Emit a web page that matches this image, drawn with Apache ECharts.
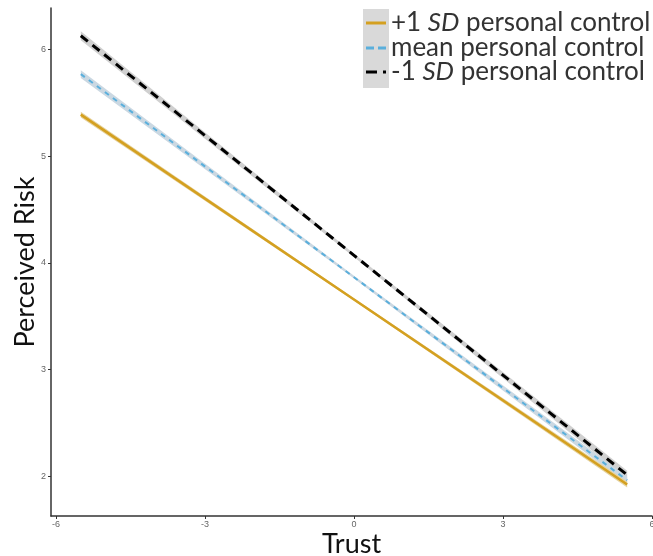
<!DOCTYPE html>
<html><head><meta charset="utf-8">
<script src="https://cdn.jsdelivr.net/npm/echarts@6/dist/echarts.min.js"></script>
<style>html,body{margin:0;padding:0;background:#fff}#c{width:653px;height:556px}</style>
</head><body><div id="c"></div>
<script>
// Data
var trust = [-5.5, 0, 5.5];
var highPC = [5.39, 3.655, 1.92];      // +1 SD personal control
var meanPC = [5.77, 3.865, 1.96];      // mean personal control
var lowPC  = [6.13, 4.07, 2.01];       // -1 SD personal control
// confidence band half-widths at the same trust values
var highBand = [0.028, 0.012, 0.028];
var meanBand = [0.036, 0.013, 0.034];
var lowBand  = [0.042, 0.015, 0.04];
var xTicks = [-6, -3, 0, 3, 6];
var yTicks = [2, 3, 4, 5, 6];
var names = ['+1 SD personal control', 'mean personal control', '-1 SD personal control'];

function pts(ys) { return trust.map(function (x, i) { return [x, ys[i]]; }); }
function bandSeries(ys, half, color) {
  return {
    type: 'custom', silent: true, z: 1,
    data: trust.map(function (x, i) { return [x, ys[i] - half[i], ys[i] + half[i]]; }),
    encode: { x: 0, y: [1, 2] },
    renderItem: function (params, api) {
      if (params.dataIndex !== 0) return null;
      var up = [], lo = [];
      for (var i = 0; i < trust.length; i++) {
        up.push(api.coord([trust[i], ys[i] + half[i]]));
        lo.unshift(api.coord([trust[i], ys[i] - half[i]]));
      }
      return { type: 'polygon', shape: { points: up.concat(lo) }, style: { fill: color } };
    }
  };
}

var chart = echarts.init(document.getElementById('c'));
var font = 'Lato, "Open Sans", sans-serif';
var colors = ['#D4A020', '#5AAFDC', '#000'];
var series = [
  bandSeries(lowPC, lowBand, '#d0d0d0'),
  bandSeries(meanPC, meanBand, '#cbd8e2'),
  bandSeries(highPC, highBand, '#e6d3a0'),
  { name: names[0], type: 'line', data: pts(highPC), symbol: 'none', lineStyle: { color: colors[0], width: 2.5, type: 'solid' }, itemStyle: { color: colors[0] }, z: 3 },
  { name: names[1], type: 'line', data: pts(meanPC), symbol: 'none', lineStyle: { color: colors[1], width: 2, type: [5, 5] }, itemStyle: { color: colors[1] }, z: 3 },
  { name: names[2], type: 'line', data: pts(lowPC), symbol: 'none', lineStyle: { color: colors[2], width: 3, type: [9, 6] }, itemStyle: { color: colors[2] }, z: 3 }
];

var icons = [
  'path://M0,0h20v3h-20z',
  'path://M0,0h8v3h-8z M12,0h8v3h-8z',
  'path://M0,0h11v3h-11z M17,0h3v3h-3z'
];
var rich = {
  a: { fontFamily: font, fontSize: 26, color: '#333' },
  i: { fontFamily: font, fontSize: 26, color: '#333', fontStyle: 'italic' }
};
function fmt(n) {
  var m = n.match(/^(\+1 |-1 )SD( .*)$/);
  if (m) return '{a|' + m[1] + '}{i|SD}{a|' + m[2] + '}';
  return '{a|' + n + '}';
}
var legendTops = [10, 35, 59];
var legends = names.map(function (n, k) {
  return {
    data: [{ name: n, icon: icons[k] }], orient: 'vertical', left: 366, top: legendTops[k], z: 5,
    itemWidth: 20, itemHeight: 3, padding: 0, itemGap: 0, selectedMode: false,
    formatter: fmt,
    textStyle: { fontFamily: font, fontSize: 26, color: '#333', rich: rich }
  };
});

chart.setOption({
  animation: false,
  backgroundColor: '#fff',
  grid: { left: 51, right: 1, top: 8, bottom: 40, containLabel: false, outerBoundsMode: 'none' },
  xAxis: {
    type: 'value', min: -6.1, max: 6.0,
    name: 'Trust', nameLocation: 'middle', nameGap: 15, nameMoveOverlap: false,
    nameTextStyle: { fontFamily: font, fontSize: 27, color: '#111' },
    axisLine: { show: true, onZero: false, lineStyle: { color: '#333', width: 1.5 } },
    axisTick: { show: true, length: 3, lineStyle: { color: '#333' }, customValues: xTicks },
    axisLabel: { fontSize: 9, color: '#666', margin: 4, customValues: xTicks },
    splitLine: { show: false }
  },
  yAxis: {
    type: 'value', min: 1.625, max: 6.39,
    name: 'Perceived Risk', nameLocation: 'middle', nameGap: 12, nameRotate: 90, nameMoveOverlap: false,
    nameTextStyle: { fontFamily: font, fontSize: 27, color: '#111' },
    axisLine: { show: true, onZero: false, lineStyle: { color: '#333', width: 1.5 } },
    axisTick: { show: true, length: 3, lineStyle: { color: '#333' }, customValues: yTicks },
    axisLabel: { fontSize: 9, color: '#666', margin: 5, customValues: yTicks },
    splitLine: { show: false }
  },
  graphic: [{ type: 'rect', left: 363, top: 9, shape: { width: 26, height: 79 }, style: { fill: '#d9d9d9' }, z: 0 }],
  legend: legends,
  series: series
});
</script></body></html>
